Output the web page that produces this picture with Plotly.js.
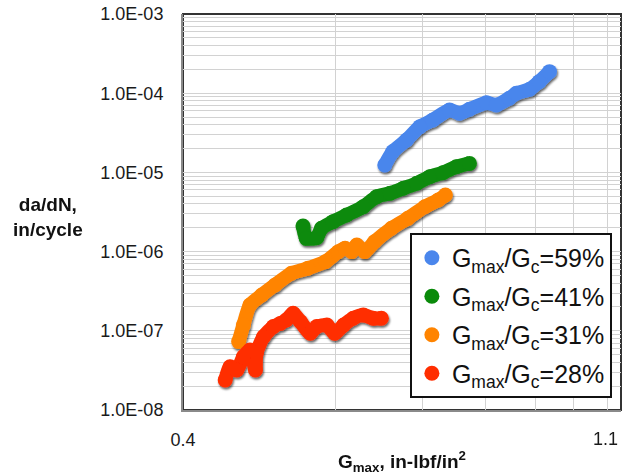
<!DOCTYPE html>
<html>
<head>
<meta charset="utf-8">
<script src="https://cdn.plot.ly/plotly-3.0.1.min.js"></script>
<style>
  html, body { margin: 0; padding: 0; background: #ffffff; }
  #chart { width: 624px; height: 475px; }
</style>
</head>
<body>
<div id="chart"></div>
<script>
// Crack growth rate da/dN versus maximum energy release rate, four load levels
const seriesNames = [
  'G<sub>max</sub>/G<sub>c</sub>=59%',
  'G<sub>max</sub>/G<sub>c</sub>=41%',
  'G<sub>max</sub>/G<sub>c</sub>=31%',
  'G<sub>max</sub>/G<sub>c</sub>=28%'
];

const gmax59 = [0.638, 0.650, 0.671, 0.692, 0.713, 0.741, 0.758, 0.776, 0.807, 0.826, 0.851, 0.865, 0.892, 0.912, 0.934];
const rate59 = [1.24e-5, 1.83e-5, 2.57e-5, 3.78e-5, 4.59e-5, 6.14e-5, 5.58e-5, 6.26e-5, 7.59e-5, 7.10e-5, 8.62e-5, 9.97e-5, 1.12e-4, 1.40e-4, 1.87e-4];

const gmax41 = [0.528, 0.532, 0.545, 0.551, 0.566, 0.584, 0.607, 0.626, 0.646, 0.666, 0.687, 0.708, 0.730, 0.753, 0.776];
const rate41 = [2.10e-6, 1.47e-6, 1.50e-6, 1.97e-6, 2.39e-6, 2.90e-6, 3.69e-6, 4.93e-6, 5.45e-6, 6.30e-6, 7.28e-6, 8.82e-6, 9.91e-6, 1.18e-5, 1.30e-5];

const gmax31 = [0.455, 0.460, 0.467, 0.480, 0.495, 0.514, 0.534, 0.556, 0.573, 0.582, 0.591, 0.598, 0.609, 0.623, 0.648, 0.673, 0.700, 0.722, 0.734];
const rate31 = [7.3e-8, 1.18e-7, 2.12e-7, 2.83e-7, 3.79e-7, 5.32e-7, 6.15e-7, 7.46e-7, 9.97e-7, 1.10e-6, 1.00e-6, 1.21e-6, 1.00e-6, 1.33e-6, 1.97e-6, 2.63e-6, 3.69e-6, 4.48e-6, 5.18e-6];

const gmax28 = [0.441, 0.446, 0.453, 0.460, 0.467, 0.473, 0.474, 0.482, 0.493, 0.501, 0.508, 0.516, 0.525, 0.537, 0.545, 0.558, 0.568, 0.580, 0.593, 0.607, 0.621, 0.633];
const rate28 = [2.39e-8, 3.52e-8, 3.20e-8, 4.71e-8, 5.72e-8, 3.20e-8, 5.20e-8, 8.42e-8, 1.13e-7, 1.24e-7, 1.37e-7, 1.66e-7, 1.30e-7, 9.3e-8, 1.13e-7, 1.18e-7, 9.3e-8, 1.18e-7, 1.44e-7, 1.58e-7, 1.44e-7, 1.44e-7];

const seriesColors = ['#4a86ec', '#0a8a0a', '#ff8400', '#ff2e00'];

// Axis ticks (the upper x label is set as an annotation so it stays inside the page)
const xMin = 0.4;
const xMax = 1.1;
const xTickVals = [0.4, 0.569, 0.696, 0.806, 0.904, 0.988, 1.069, 1.1];
const xTickText = ['0.4', '', '', '', '', '', '', ''];
const xMaxLabel = '1.1';
const yDecades = [-8, -7, -6, -5, -4, -3];
const yDecadeLabels = ['1.0E-08', '1.0E-07', '1.0E-06', '1.0E-05', '1.0E-04', '1.0E-03'];

const yTickVals = [];
const yTickText = [];
yDecades.forEach((d, i) => {
  yTickVals.push(Math.pow(10, d));
  yTickText.push(yDecadeLabels[i]);
  if (d < -3) {
    for (let m = 2; m <= 9; m++) {
      yTickVals.push(m * Math.pow(10, d));
      yTickText.push('');
    }
  }
});

const allX = [gmax59, gmax41, gmax31, gmax28];
const allY = [rate59, rate41, rate31, rate28];

const traces = [];
allX.forEach((xs, i) => {
  traces.push({
    x: xs, y: allY[i], type: 'scatter', mode: 'lines',
    line: { color: seriesColors[i], width: 14, shape: 'spline', smoothing: 0.6 },
    legendgroup: 'g' + i, showlegend: false, hoverinfo: 'skip'
  });
  traces.push({
    x: xs, y: allY[i], type: 'scatter', mode: 'markers',
    name: seriesNames[i], legendgroup: 'g' + i,
    marker: { color: seriesColors[i], size: 15, line: { width: 0 } }
  });
});

const fontFamily = '"Liberation Sans", Arial, Helvetica, sans-serif';

const layout = {
  width: 624, height: 475,
  margin: { l: 183, r: 3, t: 14, b: 65 },
  paper_bgcolor: '#ffffff', plot_bgcolor: '#ffffff',
  font: { family: fontFamily, color: '#1a1a1a', size: 18 },
  showlegend: true,
  legend: {
    x: 0.518, y: 0.447, xanchor: 'left', yanchor: 'top',
    bgcolor: '#ffffff', bordercolor: '#111111', borderwidth: 2,
    font: { family: fontFamily, size: 25, color: '#111111' },
    tracegroupgap: 3
  },
  xaxis: {
    type: 'log', range: [Math.log10(xMin), Math.log10(xMax) + 0.0008],
    tickmode: 'array', tickvals: xTickVals, ticktext: xTickText,
    showgrid: true, gridcolor: '#d2d2d2', gridwidth: 1,
    showline: true, linecolor: '#8a8a8a', linewidth: 2,
    ticks: 'outside', ticklen: 12, tickcolor: 'rgba(0,0,0,0)',
    tickfont: { size: 18, color: '#1a1a1a' },
    zeroline: false, fixedrange: true
  },
  yaxis: {
    type: 'log', range: [-8, -3],
    tickmode: 'array', tickvals: yTickVals, ticktext: yTickText,
    showgrid: true, gridcolor: '#d2d2d2', gridwidth: 1,
    showline: true, linecolor: '#8a8a8a', linewidth: 2,
    ticks: 'outside', ticklen: 14, tickcolor: 'rgba(0,0,0,0)',
    tickfont: { size: 18, color: '#1a1a1a' },
    zeroline: false, fixedrange: true
  },
  shapes: [{
    type: 'rect', xref: 'paper', yref: 'paper', x0: 0, x1: 1, y0: 0, y1: 1,
    line: { color: '#333333', width: 2 }, layer: 'between'
  }],
  annotations: [
    {
      text: xMaxLabel, xref: 'x', yref: 'paper',
      x: Math.log10(xMax), y: -0.073, xanchor: 'right', yanchor: 'middle',
      showarrow: false,
      font: { family: fontFamily, size: 18, color: '#1a1a1a' }
    },
    {
      text: '<b>da/dN,<br>in/cycle</b>', xref: 'paper', yref: 'paper',
      x: -0.308, y: 0.487, xanchor: 'center', yanchor: 'middle',
      showarrow: false, align: 'center',
      font: { family: fontFamily, size: 19, color: '#111111' }
    },
    {
      text: '<b>G<sub>max</sub>, in-lbf/in<sup>2</sup></b>', xref: 'paper', yref: 'paper',
      x: 0.5, y: -0.131, xanchor: 'center', yanchor: 'middle',
      showarrow: false,
      font: { family: fontFamily, size: 19, color: '#111111' }
    }
  ]
};

Plotly.newPlot('chart', traces, layout, { displayModeBar: false, staticPlot: true }).then(gd => {
  // Soft drop shadow under the plotted curves
  const svg = gd.querySelector('svg.main-svg');
  const ns = 'http://www.w3.org/2000/svg';
  let defs = svg.querySelector('defs');
  if (!defs) { defs = document.createElementNS(ns, 'defs'); svg.insertBefore(defs, svg.firstChild); }
  const filter = document.createElementNS(ns, 'filter');
  filter.setAttribute('id', 'curveShadow');
  filter.setAttribute('x', '-10%'); filter.setAttribute('y', '-10%');
  filter.setAttribute('width', '130%'); filter.setAttribute('height', '130%');
  const fe = document.createElementNS(ns, 'feDropShadow');
  fe.setAttribute('dx', '1'); fe.setAttribute('dy', '2');
  fe.setAttribute('stdDeviation', '1.2');
  fe.setAttribute('flood-color', '#000000'); fe.setAttribute('flood-opacity', '0.6');
  filter.appendChild(fe);
  defs.appendChild(filter);
  gd.querySelectorAll('.scatterlayer').forEach(g => g.setAttribute('filter', 'url(#curveShadow)'));
});
</script>
</body>
</html>
